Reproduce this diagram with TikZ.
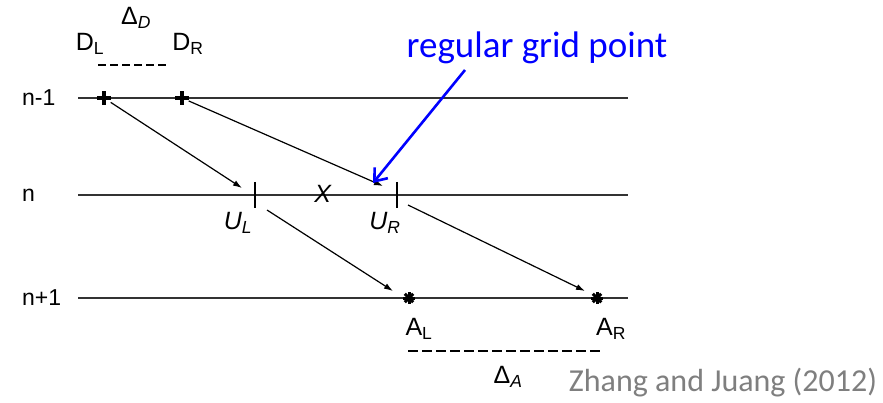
\documentclass[tikz,border=0pt]{standalone}
\usepackage{fontspec}
\setmainfont{Liberation Sans}
\newfontfamily\calfont{Carlito}
\usetikzlibrary{arrows.meta, positioning}
\definecolor{mBlue}{HTML}{0000FF}
\definecolor{mGray}{HTML}{7F7F7F}
\definecolor{mLine}{HTML}{333333}
\newcommand{\sublab}[2]{#1\textsubscript{#2}}
\tikzset{
  rowlab/.style={anchor=west, inner sep=0pt, font=\fontsize{23}{26}\selectfont},
  ptlab/.style={inner sep=0pt, font=\fontsize{25}{28}\selectfont},
  gline/.style={mLine, line width=1.3pt},
  garrow/.style={black, line width=1.2pt, -{Latex[length=9pt, width=6pt]}},
  ptmark/.style={inner sep=0pt, minimum size=13pt},
  tickmark/.style={inner sep=0pt, minimum width=0pt, minimum height=26pt},
  markline/.style={black, line width=4pt},
  dashseg/.style={black, line width=2pt},
}
\begin{document}
\begin{tikzpicture}[x=1pt, y=-1pt]
    \useasboundingbox (0,0) rectangle (883,402);
    % time levels
    \node[rowlab] (rm) at (22,98) {n-1};
    \node[rowlab] (r0) at (22,195) {n};
    \node[rowlab] (rp) at (22,298) {n+1};
    \coordinate (rmL) at (78,98);  \coordinate (rmR) at (628,98);
    \coordinate (r0L) at (78,195); \coordinate (r0R) at (628,195);
    \coordinate (rpL) at (78,298); \coordinate (rpR) at (628,298);
    \draw[gline] (rmL) -- (rmR);
    \draw[gline] (r0L) -- (r0R);
    \draw[gline] (rpL) -- (rpR);
    % departure points
    \node[ptmark] (DL) at (104,98) {};
    \node[ptmark] (DR) at (182,98) {};
    \draw[markline] (DL.west) -- (DL.east);
    \draw[markline] (DL.north) -- (DL.south);
    \draw[markline] (DR.west) -- (DR.east);
    \draw[markline] (DR.north) -- (DR.south);
    \node[ptlab] (DLlab) at (90,44) {\sublab{D}{L}};
    \node[ptlab] (DRlab) at (188,44) {\sublab{D}{R}};
    \node[ptlab] (dD) at (136,18) {Δ\textsubscript{\textit{D}}};
    \coordinate (spanDL) at (98,65);
    \foreach \i in {0,...,5}
      \draw[dashseg] (spanDL) ++(\i*12,0) -- ++(8,0);
    % intermediate points
    \node[tickmark] (UL) at (255,195) {};
    \node[tickmark] (UR) at (397,195) {};
    \draw[black, line width=1.2pt] (UL.north) -- (UL.south);
    \draw[black, line width=1.2pt] (UR.north) -- (UR.south);
    \node[ptlab] (ULlab) at (238,223) {\textit{\sublab{U}{L}}};
    \node[ptlab] (URlab) at (385,223) {\textit{\sublab{U}{R}}};
    \node[ptlab] (X) at (323,194) {\textit{X}};
    % arrival points
    \node[ptmark] (AL) at (409,298) {};
    \node[ptmark] (AR) at (597,298) {};
    \foreach \p in {AL,AR}
      \foreach \a in {0,45,90,135}
        \draw[black, line width=3pt] (\p) ++(\a:6pt) -- ++(\a+180:12pt);
    \node[ptlab] (ALlab) at (419,329) {\sublab{A}{L}};
    \node[ptlab] (ARlab) at (611,329) {\sublab{A}{R}};
    \coordinate (spanAL) at (408,351);
    \foreach \i in {0,...,13}
      \draw[dashseg] (spanAL) ++(\i*14,0) -- ++(10,0);
    \node[ptlab] (dA) at (508,377) {Δ\textsubscript{\textit{A}}};
    % trajectories
    \coordinate (e1) at (242,188); \coordinate (e2) at (383,186);
    \coordinate (s3) at (267,210); \coordinate (e3) at (393,291);
    \coordinate (s4) at (408,205); \coordinate (e4) at (585,291);
    \draw[garrow] (DL) -- (e1);
    \draw[garrow] (DR) -- (e2);
    \draw[garrow] (s3) -- (e3);
    \draw[garrow] (s4) -- (e4);
    % annotation
    \node[inner sep=0pt, text=mBlue, font=\calfont\fontsize{37}{40}\selectfont] (reg) at (537,48) {regular grid point};
    \coordinate (regA) at (465,70); \coordinate (regB) at (373,183);
    \draw[mBlue, line width=2.6pt, -{Straight Barb[length=11pt, width=17pt]}] (regA) -- (regB);
    \node[inner sep=0pt, text=mGray, font=\calfont\fontsize{32}{36}\selectfont] (cite) at (723,383) {Zhang and Juang (2012)};
  \end{tikzpicture}
\end{document}
